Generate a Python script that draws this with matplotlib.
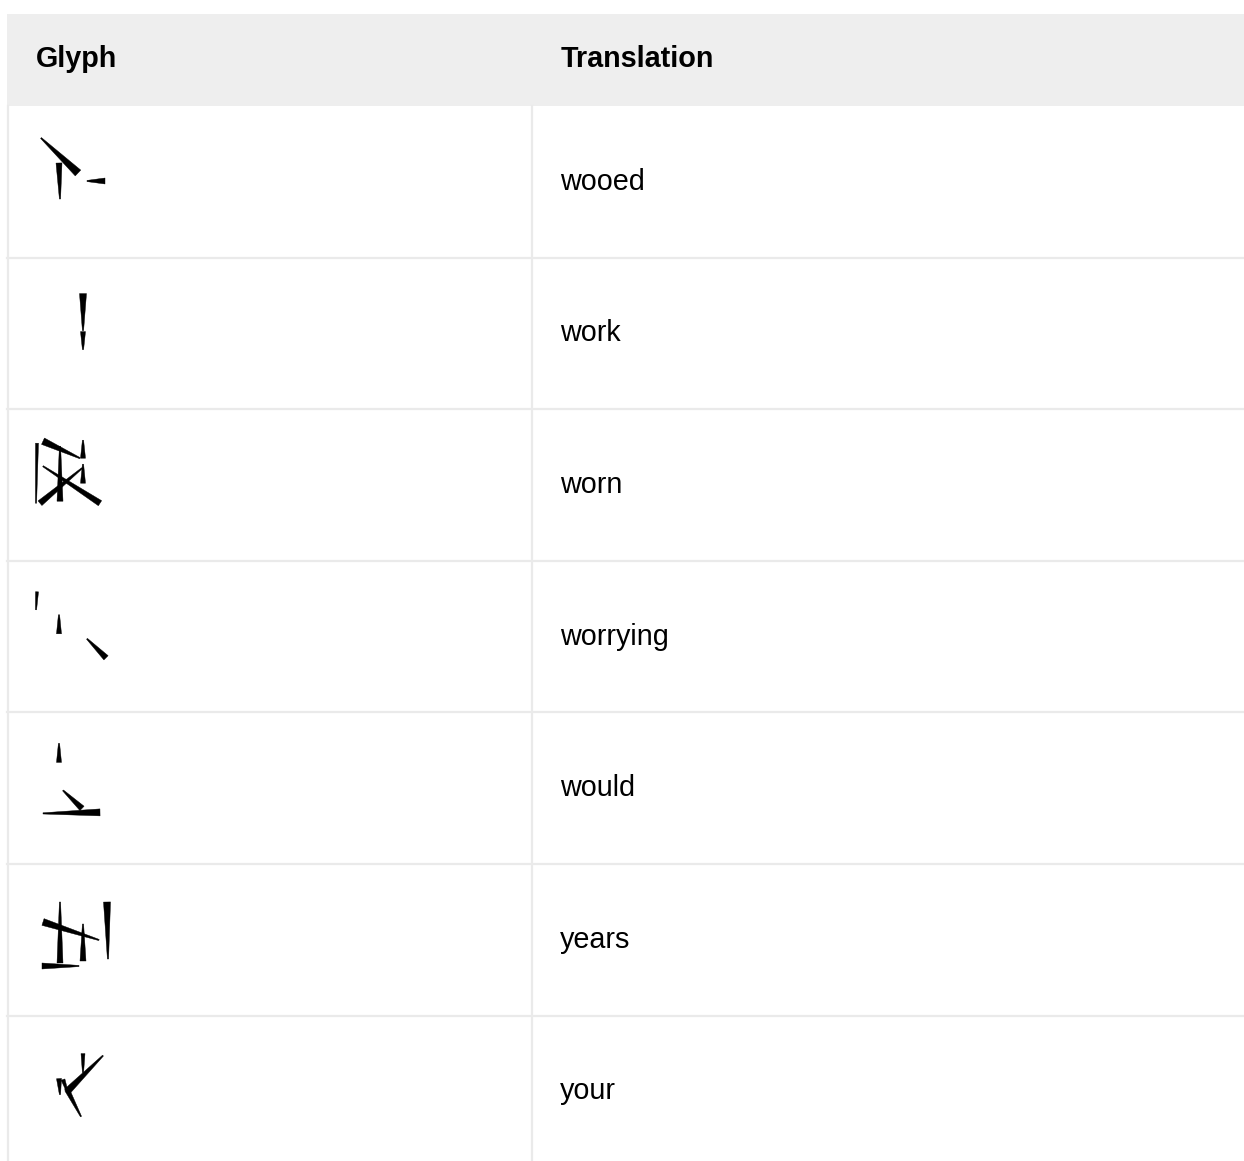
import matplotlib.pyplot as plt
from matplotlib.patches import Polygon, Rectangle
import numpy as np

plt.rcParams['font.family'] = ['Liberation Sans', 'DejaVu Sans']

headers = ['Glyph', 'Translation']
translations = ['wooed', 'work', 'worn', 'worrying', 'would', 'years', 'your']

# wedges per glyph: (head_x, head_y, tail_x, tail_y, head_width), pixels relative to row top-left
glyph_wooed = [(78, 67, 41, 32, 8), (59, 57, 60, 93, 6), (105, 75, 87, 75, 6)]
glyph_work = [(83, 36, 83, 73, 7), (83, 74, 83, 92, 5)]
glyph_worn = [(37, 34, 36, 94, 3), (43, 32, 80, 49, 7), (60, 92, 60, 37, 6),
              (83, 49, 83, 31, 5), (83, 74, 83, 55, 5), (100, 94, 43, 57, 6),
              (40, 94, 82, 59, 6)]
glyph_worrying = [(37, 31, 36, 49, 3), (59, 73, 59, 54, 5), (106, 97, 87, 78, 6)]
glyph_would = [(59, 50, 59, 31, 5), (82, 96, 63, 78, 6), (100, 100, 43, 101, 7)]
glyph_years = [(60, 99, 60, 38, 6), (43, 58, 99, 76, 7), (83, 97, 83, 60, 6),
               (107, 38, 108, 95, 7), (42, 102, 79, 102, 6)]
glyph_your = [(83, 38, 83, 57, 4), (67, 76, 103, 40, 7), (59, 63, 60, 79, 5),
              (63, 64, 68, 78, 4), (67, 74, 81, 101, 5)]
glyphs = [glyph_wooed, glyph_work, glyph_worn, glyph_worrying,
          glyph_would, glyph_years, glyph_your]

W, H = 1244, 1161
fig = plt.figure(figsize=(W / 100, H / 100), dpi=100)
ax = fig.add_axes([0, 0, 1, 1])
ax.set_xlim(0, W)
ax.set_ylim(H, 0)
ax.axis('off')

left, col2, head_top, head_bot = 7, 532, 14, 106
row_h = 151.6
line_c = '#eaeaea'

ax.add_patch(Rectangle((left, head_top), W - left, head_bot - head_top,
                       facecolor='#eeeeee', edgecolor='none'))
ax.text(36, 59, headers[0], fontsize=20.7, fontweight='bold', va='center')
ax.text(561, 59, headers[1], fontsize=20.7, fontweight='bold', va='center')

ax.plot([left + 1, left + 1], [head_bot, H], color=line_c, lw=1.6)
ax.plot([col2, col2], [head_bot, H], color=line_c, lw=1.6)


def wedge(x0, y0, hx, hy, tx, ty, w):
    d = np.array([tx - hx, ty - hy], float)
    d /= np.hypot(*d)
    p = np.array([-d[1], d[0]])
    h = np.array([x0 + hx, y0 + hy])
    t = np.array([x0 + tx, y0 + ty])
    pts = [h + p * w / 2, h - p * w / 2, t - p * 0.6, t + p * 0.6]
    ax.add_patch(Polygon(pts, closed=True, facecolor='black', edgecolor='black', lw=0.3))


for i, (word, g) in enumerate(zip(translations, glyphs)):
    top = head_bot + i * row_h
    if i > 0:
        ax.plot([left, W], [top, top], color=line_c, lw=1.6)
    ax.text(560, top + row_h / 2, word, fontsize=20.7, va='center')
    for hx, hy, tx, ty, w in g:
        wedge(0, top, hx, hy, tx, ty, w)

fig.savefig('out.png', dpi=100)
